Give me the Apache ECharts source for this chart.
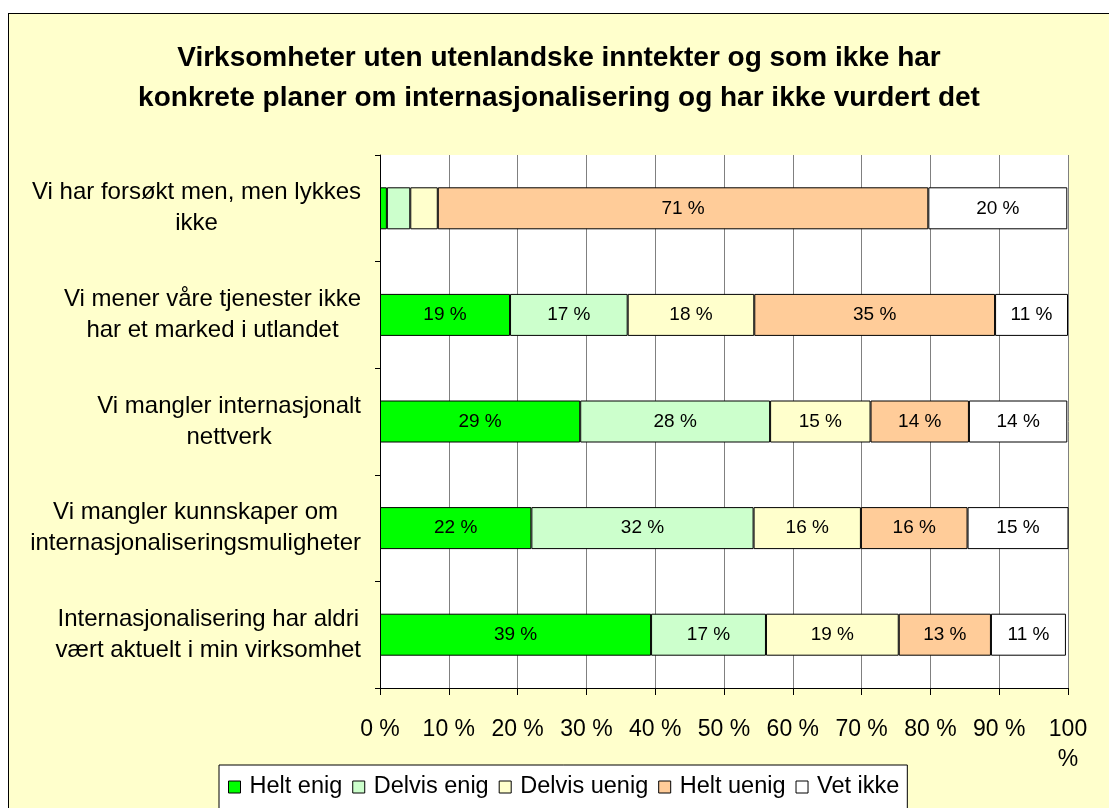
<!DOCTYPE html>
<html>
<head>
<meta charset="utf-8">
<script src="https://cdn.jsdelivr.net/npm/echarts@6/dist/echarts.min.js"></script>
<style>
  html, body { margin: 0; padding: 0; background: #ffffff; }
  #chart {
    position: absolute;
    left: 8px;
    top: 13px;
    width: 1100px;
    height: 794px;
    border-left: 1px solid #000000;
    border-top: 1px solid #000000;
    background: #ffffcc;
  }
</style>
</head>
<body>
<div id="chart"></div>
<script>
const FONT = "'Liberation Sans', Arial, sans-serif";

const categories = [
  "Vi har forsøkt men, men lykkes\nikke",
  "Vi mener våre tjenester ikke\nhar et marked i utlandet",
  "Vi mangler internasjonalt\nnettverk",
  "Vi mangler kunnskaper om\ninternasjonaliseringsmuligheter",
  "Internasjonalisering har aldri\nvært aktuelt i min virksomhet",
];
const seriesNames = ["Helt enig", "Delvis enig", "Delvis uenig", "Helt uenig", "Vet ikke"];
const heltEnig = [1.0, 18.9, 29.1, 22.0, 39.4];
const delvisEnig = [3.4, 17.1, 27.6, 32.3, 16.7];
const delvisUenig = [4.0, 18.4, 14.6, 15.6, 19.3];
const heltUenig = [71.3, 35.0, 14.3, 15.5, 13.4];
const vetIkke = [20.2, 10.6, 14.3, 14.8, 10.9];
const xTicks = [0, 10, 20, 30, 40, 50, 60, 70, 80, 90, 100];

const colors = ["#00ff00", "#ccffcc", "#ffffcc", "#ffcc99", "#ffffff"];
const values = [heltEnig, delvisEnig, delvisUenig, heltUenig, vetIkke];

const chart = echarts.init(document.getElementById("chart"));

chart.setOption({
  backgroundColor: "#ffffcc",
  animation: false,
  textStyle: { fontFamily: FONT, color: "#000000" },
  title: {
    text: "Virksomheter uten utenlandske inntekter og som ikke har\nkonkrete planer om internasjonalisering og har ikke vurdert det",
    left: "center",
    top: 19,
    textStyle: {
      fontFamily: FONT,
      fontSize: 28,
      fontWeight: "bold",
      lineHeight: 40,
      color: "#000000",
    },
  },
  legend: {
    left: 210,
    top: 751,
    orient: "horizontal",
    backgroundColor: "#ffffff",
    borderColor: "#000000",
    borderWidth: 1,
    borderRadius: 0,
    padding: [10, 8, 20, 9],
    itemGap: 10,
    itemWidth: 12,
    itemHeight: 12,
    icon: "rect",
    itemStyle: { borderColor: "#000000", borderWidth: 1 },
    textStyle: { fontFamily: FONT, fontSize: 23.5, color: "#000000", padding: [0, 0, 0, 4] },
    data: seriesNames,
  },
  grid: {
    left: 371,
    right: 41,
    top: 141,
    bottom: 120,
    show: true,
    backgroundColor: "#ffffff",
    borderWidth: 0,
  },
  xAxis: {
    type: "value",
    min: xTicks[0],
    max: xTicks[xTicks.length - 1],
    interval: xTicks[1] - xTicks[0],
    axisLine: { show: true, lineStyle: { color: "#000000", width: 1 } },
    axisTick: { show: true, length: 7, lineStyle: { color: "#000000" } },
    splitLine: { show: true, lineStyle: { color: "#808080", width: 1 } },
    axisLabel: {
      fontFamily: FONT,
      fontSize: 23,
      lineHeight: 30,
      color: "#000000",
      margin: 27,
      formatter: (v) => (v === 100 ? "100\n%" : v + " %"),
    },
  },
  yAxis: {
    type: "category",
    inverse: true,
    data: categories,
    axisLine: { show: true, lineStyle: { color: "#000000", width: 1 } },
    axisTick: { show: true, length: 5, inside: false, lineStyle: { color: "#000000" } },
    splitLine: { show: false },
    axisLabel: {
      margin: 19,
      formatter: (v) => v.split("\n").map((l) => "{c|" + l + "}").join("\n"),
      rich: {
        c: {
          align: "center",
          fontFamily: FONT,
          fontSize: 24,
          lineHeight: 31,
          color: "#000000",
        },
      },
    },
  },
  series: seriesNames.map((name, i) => ({
    name: name,
    type: "bar",
    stack: "total",
    barWidth: 42,
    data: values[i],
    itemStyle: { color: colors[i], borderColor: "#000000", borderWidth: 1 },
    label: {
      show: true,
      position: "inside",
      fontFamily: FONT,
      fontSize: 19,
      color: "#000000",
      textBorderWidth: 0,
      formatter: (p) => (p.value >= 5 ? Math.round(p.value) + " %" : ""),
    },
    emphasis: { disabled: true },
  })),
});
</script>
</body>
</html>
